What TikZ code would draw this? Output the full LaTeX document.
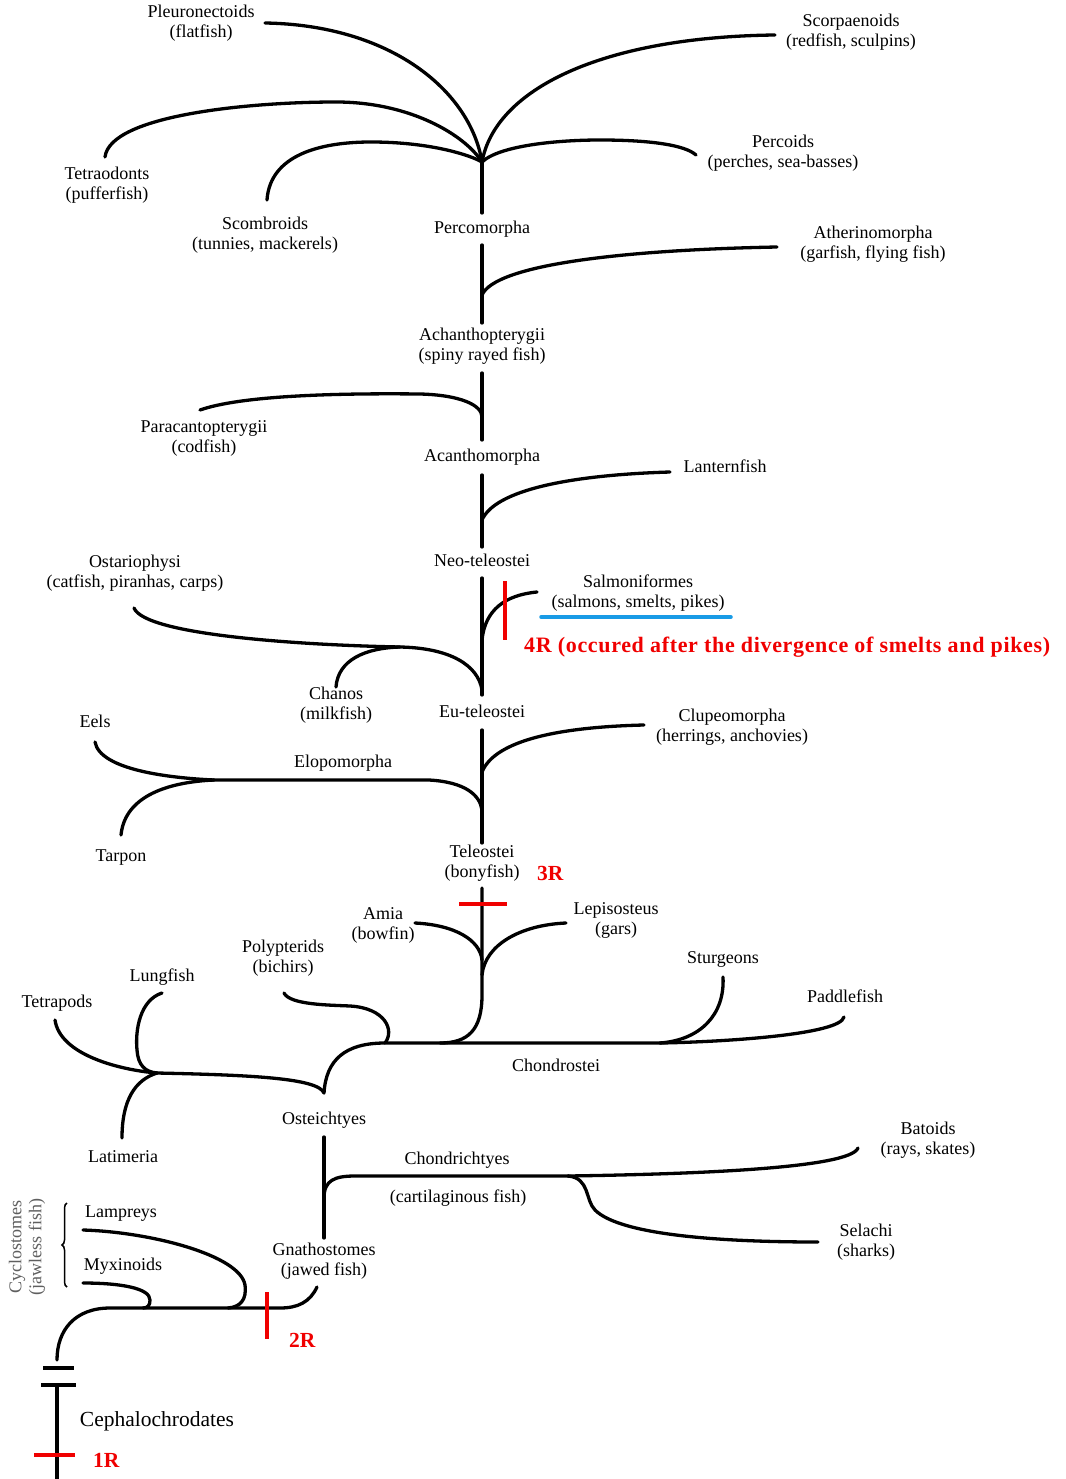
\documentclass[tikz,border=0pt]{standalone}
\usepackage{fontspec}
\setmainfont{Liberation Serif}
\usetikzlibrary{decorations.pathreplacing}
\definecolor{ublue}{RGB}{25,155,230}
\definecolor{rred}{RGB}{240,0,0}
\definecolor{cgray}{RGB}{95,95,95}
\tikzset{
  br/.style={line width=3.3pt, line cap=round, black},
  redbar/.style={line width=4pt, rred},
  lbl/.style={font=\fontsize{18}{20}\selectfont, align=center, inner sep=0pt},
  one/.style={lbl, text height=12.5pt, text depth=3.5pt},
  rlab/.style={font=\fontsize{21.5}{24}\selectfont\bfseries, text=rred, inner sep=0pt, anchor=west, text height=14pt, text depth=4pt}
}
\begin{document}
\begin{tikzpicture}[x=1pt,y=-1pt]
\path[use as bounding box, fill=white] (0,0) rectangle (1065,1479);

% ---- junction coordinates
\coordinate (jPerc) at (482,162);
\coordinate (jAth) at (482,295);
\coordinate (jPara) at (482,417);
\coordinate (jLan) at (482,520);
\coordinate (jSal) at (482,640);
\coordinate (jOst) at (482,690);
\coordinate (jChan) at (400,647);
\coordinate (jClu) at (482,772);
\coordinate (jElo) at (482,810);
\coordinate (jEel) at (214,780);
\coordinate (jAmia) at (482,960);
\coordinate (jLep) at (482,975);
\coordinate (jChdr) at (660,1043);
\coordinate (jOsteich) at (324,1093);
\coordinate (jSarc) at (157,1073);
\coordinate (jChon) at (324,1198);
\coordinate (jSel) at (568,1176);

% ---- labels
\node[lbl] (pleu) at (201,23) {Pleuronectoids\\(flatfish)};
\node[lbl] (scorp) at (851,32) {Scorpaenoids\\(redfish, sculpins)};
\node[lbl] (tetrao) at (107,185) {Tetraodonts\\(pufferfish)};
\node[lbl] (percoid) at (783,153) {Percoids\\(perches, sea-basses)};
\node[lbl] (scomb) at (265,235) {Scombroids\\(tunnies, mackerels)};
\node[one] (percom) at (482,229) {Percomorpha};
\node[lbl] (ather) at (873,244) {Atherinomorpha\\(garfish, flying fish)};
\node[lbl] (achan) at (482,346) {Achanthopterygii\\(spiny rayed fish)};
\node[lbl] (parac) at (204,438) {Paracantopterygii\\(codfish)};
\node[one] (acanth) at (482,457) {Acanthomorpha};
\node[one] (lantern) at (725,468) {Lanternfish};
\node[one] (neo) at (482,562) {Neo-teleostei};
\node[lbl] (ostar) at (135,573) {Ostariophysi\\(catfish, piranhas, carps)};
\node[lbl] (salmo) at (638,593) {Salmoniformes\\(salmons, smelts, pikes)};
\node[rlab, font=\fontsize{22}{24}\selectfont\bfseries\addfontfeature{LetterSpace=3}] (r4) at (524,647) {4R (occured after the divergence of smelts and pikes)};
\node[lbl] (chanos) at (336,705) {Chanos\\(milkfish)};
\node[one] (eu) at (482,713) {Eu-teleostei};
\node[one] (eels) at (95,723) {Eels};
\node[lbl] (clupeo) at (732,727) {Clupeomorpha\\(herrings, anchovies)};
\node[one] (elopo) at (343,763) {Elopomorpha};
\node[one] (tarpon) at (121,857) {Tarpon};
\node[lbl] (teleo) at (482,863) {Teleostei\\(bonyfish)};
\node[rlab] (r3) at (537,875) {3R};
\node[lbl] (amia) at (383,925) {Amia\\(bowfin)};
\node[lbl] (lepis) at (616,920) {Lepisosteus\\(gars)};
\node[lbl] (polyp) at (283,958) {Polypterids\\(bichirs)};
\node[one] (sturg) at (723,959) {Sturgeons};
\node[one] (lungf) at (162,977) {Lungfish};
\node[one] (paddle) at (845,998) {Paddlefish};
\node[one] (tetrap) at (57,1003) {Tetrapods};
\node[one] (chondro) at (556,1067) {Chondrostei};
\node[one] (osteich) at (324,1120) {Osteichtyes};
\node[lbl] (batoid) at (928,1140) {Batoids\\(rays, skates)};
\node[one] (latim) at (123,1158) {Latimeria};
\node[one] (chondri) at (457,1160) {Chondrichtyes};
\node[one] (cartil) at (458,1198) {(cartilaginous fish)};
\node[one] (lamp) at (121,1213) {Lampreys};
\node[lbl] (selachi) at (866,1242) {Selachi\\(sharks)};
\node[lbl] (gnath) at (324,1261) {Gnathostomes\\(jawed fish)};
\node[one] (myxi) at (123,1266) {Myxinoids};
\node[lbl, rotate=90, text=cgray] (cyclo) at (27,1247) {Cyclostomes\\(jawless fish)};
\node[rlab] (r2) at (289,1342) {2R};
\node[one, font=\fontsize{21.5}{24}\selectfont] (cephalo) at (157,1422) {Cephalochrodates};
\node[rlab] (r1) at (93,1462) {1R};

% ---- spine
\draw[br] (jPerc) -- (482,213);
\draw[br] (482,245) -- (482,323);
\draw[br] (482,373) -- (482,440);
\draw[br] (482,475) -- (482,547);
\draw[br] (482,578) -- (482,695);
\draw[br] (482,730) -- (482,843);
\draw[br] (482,888) -- (482,995) .. controls (482,1030) and (468,1043) .. (440,1043);
\draw[br] (jOsteich) .. controls (326,1060) and (345,1043) .. (385,1043) -- (jChdr);
\draw[br] (324,1137) -- (324,1238);

% ---- top cluster
\draw[br] (265,23) .. controls (390,25) and (470,90) .. (jPerc);
\draw[br] (775,35) .. controls (600,37) and (495,90) .. (jPerc);
\draw[br] (105,157) .. controls (110,115) and (250,102) .. (336,102) .. controls (410,102) and (465,135) .. (jPerc);
\draw[br] (267,200) .. controls (270,155) and (320,142) .. (371,142) .. controls (430,142) and (470,155) .. (jPerc);
\draw[br] (jPerc) .. controls (500,145) and (560,140) .. (600,140) .. controls (650,140) and (685,145) .. (696,155);

% ---- middle
\draw[br] (jAth) .. controls (495,265) and (620,250) .. (777,247);
\draw[br] (200,410) .. controls (240,396) and (330,393) .. (420,394) .. controls (460,395) and (482,405) .. (jPara);
\draw[br] (jLan) .. controls (495,490) and (570,475) .. (670,472);
\draw[br] (jSal) .. controls (485,610) and (505,595) .. (537,592);
\draw[br] (134,608) .. controls (145,635) and (300,645) .. (jChan) .. controls (450,648) and (478,665) .. (jOst);
\draw[br] (336,687) .. controls (338,660) and (365,648) .. (jChan);
\draw[br] (jClu) .. controls (495,740) and (560,727) .. (644,725);
\draw[br] (95,742) .. controls (100,770) and (170,778) .. (jEel);
\draw[br] (121,835) .. controls (125,795) and (170,782) .. (jEel);
\draw[br] (jEel) -- (429,780) .. controls (465,782) and (480,795) .. (jElo);

% ---- lower
\draw[br] (415,923) .. controls (455,925) and (480,940) .. (jAmia);
\draw[br] (566,923) .. controls (520,925) and (485,945) .. (jLep);
\draw[br] (723,977) .. controls (725,1015) and (700,1040) .. (jChdr);
\draw[br] (jChdr) .. controls (720,1042) and (840,1035) .. (844,1017);
\draw[br] (284,993) .. controls (290,1005) and (330,1005) .. (350,1006) .. controls (385,1008) and (395,1030) .. (385,1043);
\draw[br] (jSarc) .. controls (250,1075) and (318,1078) .. (jOsteich);
\draw[br] (55,1020) .. controls (60,1055) and (120,1070) .. (jSarc);
\draw[br] (162,993) .. controls (140,1000) and (135,1030) .. (137,1050) .. controls (138,1065) and (145,1072) .. (jSarc);
\draw[br] (122,1138) .. controls (122,1100) and (135,1080) .. (jSarc);
\draw[br] (jChon) .. controls (324,1180) and (335,1176) .. (355,1176) -- (jSel);
\draw[br] (jSel) .. controls (700,1174) and (850,1168) .. (858,1148);
\draw[br] (jSel) .. controls (590,1178) and (585,1200) .. (595,1210) .. controls (620,1235) and (720,1242) .. (818,1242);

% ---- bottom
\draw[br] (317,1287) .. controls (310,1302) and (298,1308) .. (280,1308) -- (110,1308) .. controls (75,1308) and (57,1330) .. (57,1360);
\draw[br] (83,1230) .. controls (150,1232) and (240,1255) .. (245,1285) .. controls (247,1300) and (240,1307) .. (228,1308);
\draw[br] (83,1283) .. controls (120,1283) and (150,1288) .. (150,1300) .. controls (150,1305) and (148,1308) .. (143,1308);
\draw[line width=1.5pt, decorate, decoration={brace, amplitude=5pt}] (67,1287) -- (67,1203);
\draw[line width=4.5pt] (43,1368) -- (74,1368);
\draw[line width=4.5pt] (41,1385) -- (76,1385);
\draw[br] (57,1385) -- (57,1479);

% ---- duplication marks
\draw[redbar] (505,581) -- (505,640);
\draw[redbar] (459,904) -- (507,904);
\draw[redbar] (267,1292) -- (267,1339);
\draw[redbar] (34,1455) -- (75,1455);
\draw[line width=3.5pt, ublue, line cap=round] (541,617) -- (731,617);
\end{tikzpicture}
\end{document}
